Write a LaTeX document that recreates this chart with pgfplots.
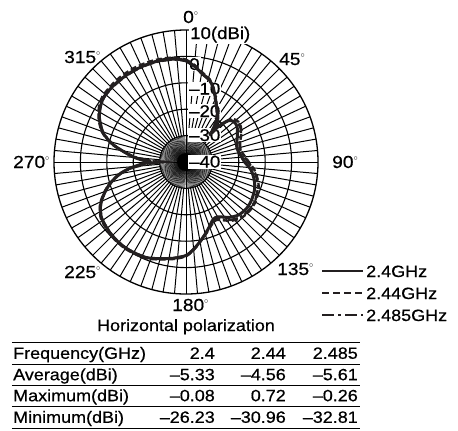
\documentclass[border=0pt]{standalone}
\usepackage{fontspec}
\setmainfont{Liberation Sans}[FakeStretch=1.1,FakeBold=0.6]
\usepackage{pgfplots}
\usepackage{pgfplotstable}
\pgfplotsset{compat=1.18}
\definecolor{crv}{RGB}{35,31,32}
\newcommand\dg{\raisebox{7.5bp}{\fontsize{8}{8}\selectfont$\circ$}}
\newcommand\tf{\fontsize{16.4}{18}\selectfont}
\newcommand\af{\fontsize{17.5}{20}\selectfont}
\newcommand\dbf{\fontsize{17}{19}\selectfont}

\pgfplotstableread{
a    s      d      c
0    -1.6   -1.2   -1.8
5    -3.5   -3.1   -3.7
10   -5.8   -5.4   -6.0
16   -7.7   -7.4   -7.9
20   -10.0  -9.8   -10.2
24   -12.9  -12.6  -13.2
28   -15.5  -15.3  -15.8
32   -17.5  -17.8  -18.0
36   -19.5  -20.5  -20.8
39   -21.5  -23.5  -24.0
41   -24.0  -26.0  -27.0
43   -20.5  -21.0  -22.0
46   -17.4  -16.8  -17.2
50   -16.3  -15.2  -15.5
55   -16.4  -15.0  -15.3
60   -17.5  -15.8  -16.0
65   -18.6  -17.0  -17.2
70   -19.6  -18.2  -18.4
75   -20.0  -18.7  -18.9
80   -19.6  -18.5  -18.7
85   -18.8  -17.5  -17.8
90   -17.8  -16.2  -16.5
97   -15.2  -13.8  -14.1
105  -13.2  -11.7  -12.0
112  -12.0  -10.4  -10.8
120  -11.3  -9.7   -10.0
127  -11.1  -9.6   -10.0
135  -11.7  -10.2  -10.6
142  -13.4  -11.8  -12.2
148  -15.5  -14.0  -14.3
152  -16.2  -15.2  -15.6
156  -15.6  -14.8  -15.0
160  -14.0  -13.5  -13.8
165  -11.8  -11.5  -11.8
170  -9.4   -9.2   -9.5
175  -6.8   -6.6   -6.9
180  -4.6   -4.3   -4.7
187  -3.3   -3.0   -3.4
194  -2.3   -2.0   -2.4
200  -1.2   -0.9   -1.3
205  -0.6   -0.3   -0.7
215  -0.2    0.1   -0.3
225  -0.5   -0.2   -0.6
235  -1.4   -1.1   -1.5
240  -2.6   -2.3   -2.7
244  -4.1   -3.8   -4.2
248  -6.3   -6.0   -6.4
252  -8.7   -8.4   -8.8
256  -11.5  -11.3  -11.7
260  -14.7  -14.6  -15.0
264  -19.0  -19.5  -20.0
268  -24.0  -26.0  -27.5
270  -26.2  -31.0  -32.8
272  -24.0  -26.5  -27.5
275  -20.5  -21.0  -21.5
278  -17.5  -17.5  -17.8
283  -12.0  -11.8  -12.2
287  -8.5   -8.3   -8.7
290  -6.3   -6.0   -6.5
294  -4.5   -4.1   -4.6
297  -3.2   -2.8   -3.3
302  -1.6   -1.1   -1.7
308  -0.4    0.2   -0.5
315  -0.1    0.5   -0.3
322  -0.1    0.7   -0.3
330  -0.1    0.7   -0.3
338  -0.2    0.5   -0.4
344  -0.3    0.3   -0.5
351  -0.6    0.0   -0.8
356  -1.0   -0.6   -1.2
360  -1.6   -1.2   -1.8
}\pat

\begin{document}
\begin{tikzpicture}[x=1bp,y=1bp]
\useasboundingbox (-186,-268) rectangle (272,162);
% polar grid
\foreach \a in {0,2.5,...,357.5} \draw[line width=0.5bp] (0,0) -- (\a:26.4);
\fill (0,0) circle[radius=9];
\foreach \a in {0,5,...,355} \draw[line width=1bp] (\a:26.4) -- (\a:132);
\foreach \r in {26.4,52.8,79.2,105.6} \draw[line width=1.1bp] (0,0) circle[radius=\r];
\draw[line width=1.3bp] (0,0) circle[radius=132];
% radial scale labels
\begin{scope}[every node/.style={fill=white,inner sep=1bp,anchor=base west,font=\dbf}]
\node at (3,123) {10(dBi)};
\node at (2,92) {0};
\node at (2,67.5) {–10};
\node at (2,45) {–20};
\node at (2,21) {–30};
\node at (2,-5.5) {–40};
\end{scope}
\begin{axis}[at={(0,0)}, anchor=origin, x=1bp, y=1bp,
  xmin=-186, xmax=272, ymin=-268, ymax=162, hide axis, clip=false]
\addplot[crv, line width=3bp, smooth, tension=0.5]
  table[x expr={2.64*(\thisrow{s}+40)*sin(\thisrow{a})}, y expr={2.64*(\thisrow{s}+40)*cos(\thisrow{a})}]{\pat};
\addplot[crv, line width=2.4bp, smooth, tension=0.5, dash pattern=on 6bp off 3bp]
  table[x expr={2.64*(\thisrow{d}+40)*sin(\thisrow{a})}, y expr={2.64*(\thisrow{d}+40)*cos(\thisrow{a})}]{\pat};
\addplot[crv, line width=2.4bp, smooth, tension=0.5, dash pattern=on 10bp off 3bp on 2bp off 3bp]
  table[x expr={2.64*(\thisrow{c}+40)*sin(\thisrow{a})}, y expr={2.64*(\thisrow{c}+40)*cos(\thisrow{a})}]{\pat};
\end{axis}
% angle labels
\begin{scope}[every node/.style={inner sep=0,anchor=base west,font=\af}]
\node at (-3,139) {0\dg};
\node at (93,97) {45\dg};
\node at (146,-6) {90\dg};
\node at (91,-113) {135\dg};
\node at (-14,-149) {180\dg};
\node at (-122,-116) {225\dg};
\node at (-173,-6) {270\dg};
\node at (-122,99) {315\dg};
\end{scope}
% legend
\draw[crv, line width=2.4bp] (136,-109) -- (177,-109);
\draw[crv, line width=2.4bp, dash pattern=on 7bp off 4bp] (136,-131) -- (178,-131);
\draw[crv, line width=2.4bp, dash pattern=on 12bp off 4bp on 3bp off 4bp] (136,-153) -- (177,-153);
\begin{scope}[every node/.style={inner sep=0,anchor=base west,font=\tf}]
\node at (180,-115) {2.4GHz};
\node at (180,-137) {2.44GHz};
\node at (180,-159) {2.485GHz};
\end{scope}
% title
\node[inner sep=0,anchor=base,font=\tf] at (0,-169) {Horizontal polarization};
% table
\foreach \y in {-180.3,-202.3,-223.7,-244.7,-266.3} \draw[line width=1bp] (-174,\y) -- (174,\y);
\begin{scope}[every node/.style={inner sep=0,font=\tf}]
\node[anchor=base west] at (-173,-196.8) {Frequency(GHz)};
\node[anchor=base east] at (29,-196.8) {2.4};
\node[anchor=base east] at (100,-196.8) {2.44};
\node[anchor=base east] at (172,-196.8) {2.485};
\node[anchor=base west] at (-173,-218.2) {Average(dBi)};
\node[anchor=base east] at (29,-218.2) {–5.33};
\node[anchor=base east] at (100,-218.2) {–4.56};
\node[anchor=base east] at (172,-218.2) {–5.61};
\node[anchor=base west] at (-173,-239.2) {Maximum(dBi)};
\node[anchor=base east] at (29,-239.2) {–0.08};
\node[anchor=base east] at (100,-239.2) {0.72};
\node[anchor=base east] at (172,-239.2) {–0.26};
\node[anchor=base west] at (-173,-260.8) {Minimum(dBi)};
\node[anchor=base east] at (29,-260.8) {–26.23};
\node[anchor=base east] at (100,-260.8) {–30.96};
\node[anchor=base east] at (172,-260.8) {–32.81};
\end{scope}
\end{tikzpicture}
\end{document}
